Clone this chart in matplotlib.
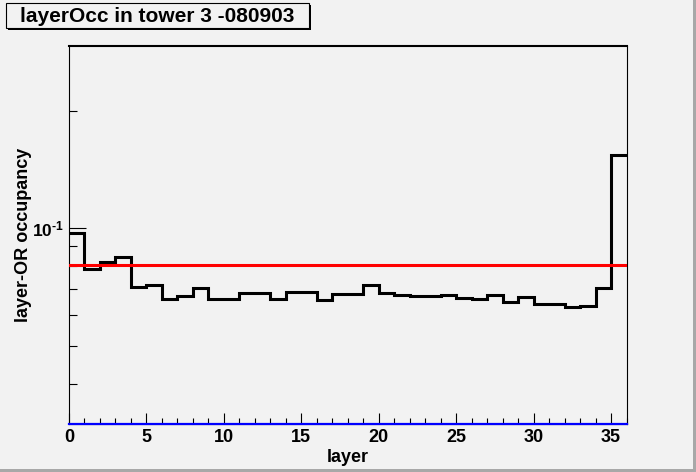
import matplotlib
matplotlib.use('Agg')
import matplotlib.pyplot as plt
import numpy as np
from matplotlib.patches import Rectangle
from matplotlib.ticker import FixedLocator, NullFormatter, MultipleLocator

plt.rcParams['font.family'] = ['Liberation Sans', 'DejaVu Sans']
plt.rcParams['font.weight'] = 'bold'
plt.rcParams['mathtext.fontset'] = 'custom'
plt.rcParams['mathtext.rm'] = 'Liberation Sans:bold'
plt.rcParams['mathtext.bf'] = 'Liberation Sans:bold'
plt.rcParams['mathtext.it'] = 'Liberation Sans:bold'

# layer-OR occupancy per layer (36 bins)
layers = np.arange(37)
occupancy = [0.0976, 0.0788, 0.0822, 0.0844, 0.0707, 0.0716, 0.0659, 0.0673,
             0.0704, 0.0661, 0.0661, 0.0683, 0.0683, 0.0662, 0.0690, 0.0687,
             0.0657, 0.0680, 0.0680, 0.0717, 0.0683, 0.0677, 0.0671, 0.0671,
             0.0676, 0.0665, 0.0660, 0.0676, 0.0648, 0.0667, 0.0640, 0.0640,
             0.0630, 0.0633, 0.0704, 0.154]
mean_level = 0.0805
y_min, y_max = 0.0317, 0.292
title = 'layerOcc in tower 3 -080903'

bg = '#f2f2f2'
fig = plt.figure(figsize=(6.96, 4.72), dpi=100, facecolor=bg)
ax = fig.add_axes([69 / 696, 1 - 423.7 / 472, 557.5 / 696, 377.4 / 472])
ax.set_facecolor(bg)

ax.stairs(occupancy, layers, baseline=None, color='black', lw=2.2, zorder=3)
ax.axhline(mean_level, color='red', lw=2.2, zorder=4)
ax.axhline(y_min, color='blue', lw=1.6, zorder=5, clip_on=False)

ax.set_yscale('log')
ax.set_xlim(0, 36)
ax.set_ylim(y_min, y_max)

ax.yaxis.set_major_locator(FixedLocator([0.1]))
ax.yaxis.set_minor_locator(FixedLocator([0.04, 0.05, 0.06, 0.07, 0.08, 0.09, 0.2]))
ax.yaxis.set_minor_formatter(NullFormatter())
ax.set_yticklabels([r'$10^{\text{-1}}$'])
ax.xaxis.set_major_locator(MultipleLocator(5))
ax.xaxis.set_minor_locator(MultipleLocator(1))

ax.tick_params(axis='both', which='both', direction='in', width=0.8,
               top=False, right=False, labelsize=13)
ax.tick_params(axis='y', which='major', length=12.2, pad=4, labelsize=12.5)
ax.tick_params(axis='y', which='minor', length=5.8)
ax.tick_params(axis='x', which='major', length=7.9, pad=4)
ax.tick_params(axis='x', which='minor', length=4)

for side in ['left', 'right', 'bottom']:
    ax.spines[side].set_linewidth(0.8)
ax.spines['top'].set_linewidth(1.5)

ax.set_xlabel('layer', fontsize=13, fontweight='bold', labelpad=2)
ax.set_ylabel('layer-OR occupancy', fontsize=13, fontweight='bold')
ax.yaxis.set_label_coords(-0.067, 0.5)

# canvas border (bottom and right)
fig.patches.append(Rectangle((0, 0), 1, 3 / 472, transform=fig.transFigure,
                             facecolor='#a8a8a8', edgecolor='none'))
fig.patches.append(Rectangle((1 - 3 / 696, 0), 3 / 696, 1, transform=fig.transFigure,
                             facecolor='#a8a8a8', edgecolor='none'))

# title box with shadow
bx, by, bw, bh = 6 / 696, 1 - 28.3 / 472, 303 / 696, 25.6 / 472
fig.patches.append(Rectangle((bx + 2 / 696, by - 2 / 472), bw, bh, transform=fig.transFigure,
                             facecolor='black', edgecolor='none'))
fig.patches.append(Rectangle((bx, by), bw, bh, transform=fig.transFigure,
                             facecolor=bg, edgecolor='black', lw=0.8))
fig.text(157 / 696, 1 - 16 / 472, title, ha='center', va='center',
         fontsize=15, fontweight='bold')

fig.savefig('out.png', dpi=100, facecolor=bg)
